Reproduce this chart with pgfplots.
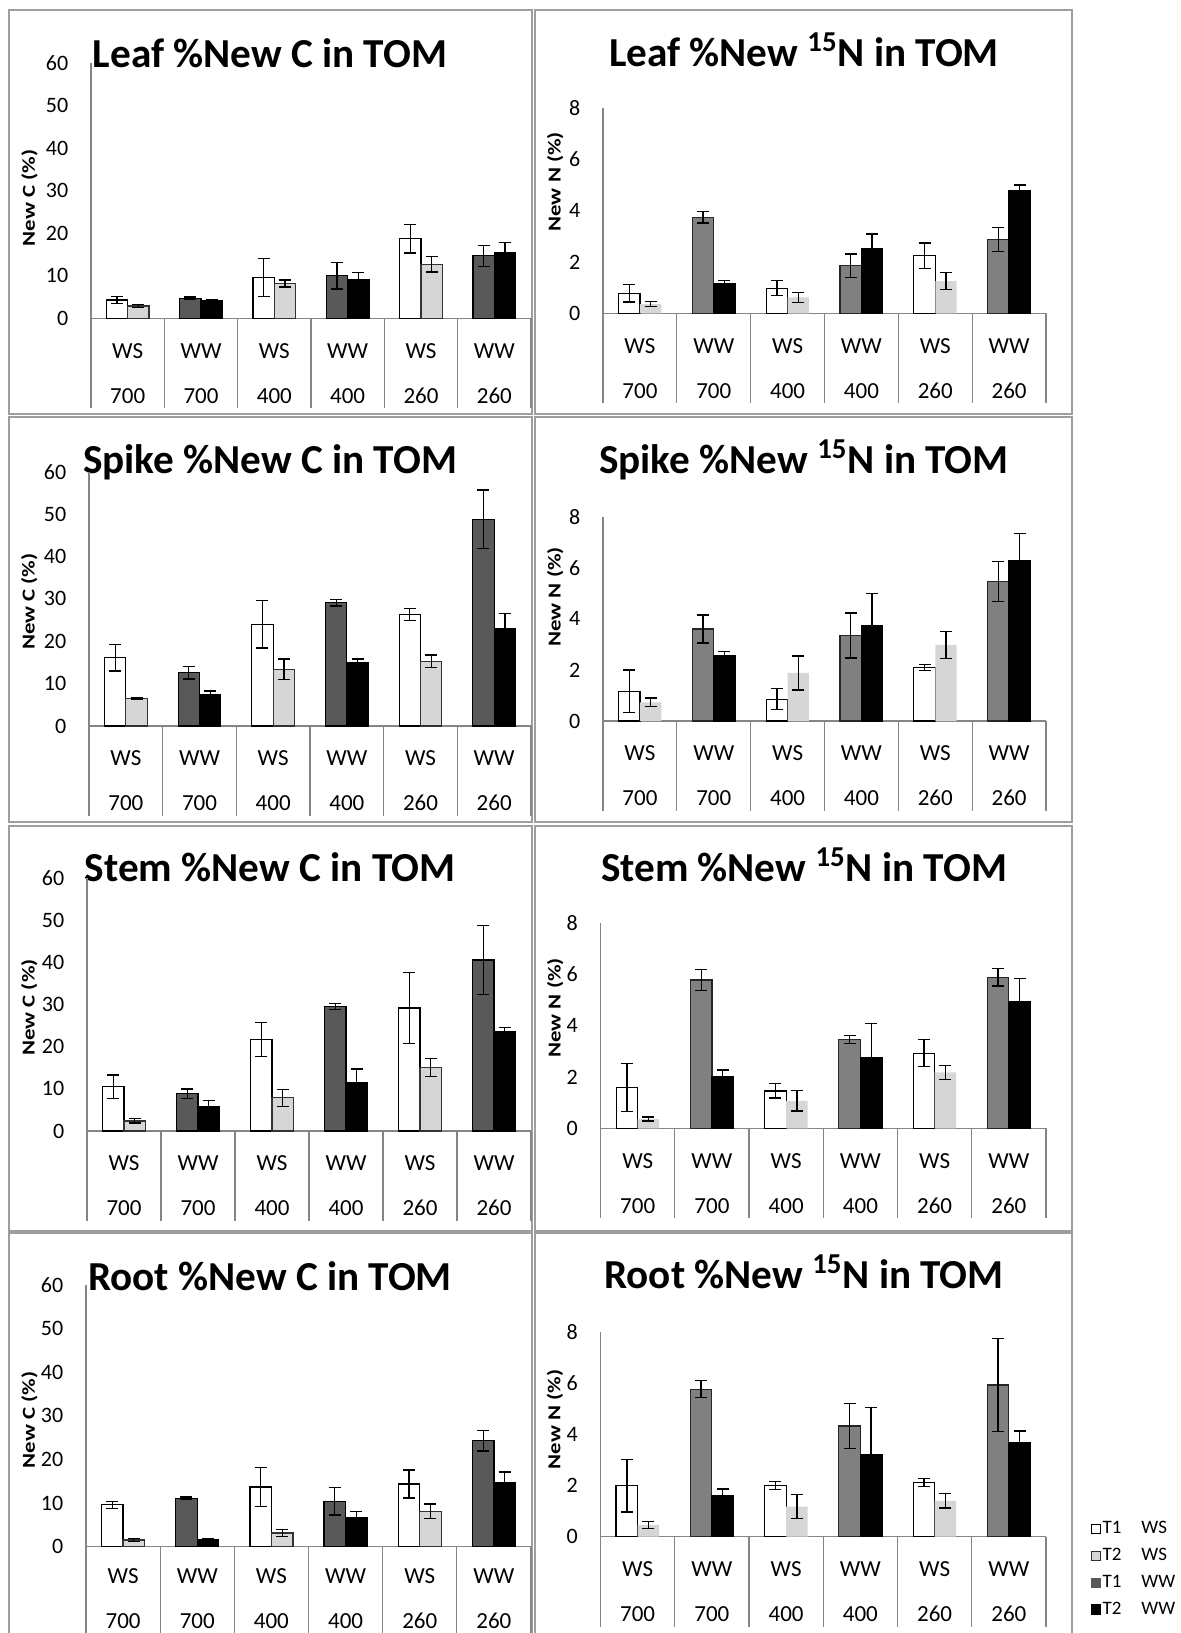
\documentclass[border=0pt]{standalone}
\usepackage{fontspec}
\setmainfont{Carlito}
\usepackage{graphicx}
\usepackage{pgfplots}
\pgfplotsset{compat=1.18}

\pgfplotsset{
  panel/.style={
    scale only axis, clip=false, enlargelimits=false,
    ybar, bar width=0.29, bar shift=0pt,
    xmin=-0.5, xmax=5.5, ymin=0,
    axis x line*=bottom, axis y line*=left,
    axis line style={draw=black!48, line width=0.6pt},
    tick style={draw=none},
    xtick={0,...,5},
    xticklabels={{WS\\700},{WW\\700},{WS\\400},{WW\\400},{WS\\260},{WW\\260}},
    xticklabel style={align=center, anchor=center, inner sep=0pt, yshift=-23.2pt,
      font=\fontsize{11.5}{22.5}\selectfont},
    yticklabel style={anchor=east, inner sep=0pt, xshift=-11.2pt,
      font=\fontsize{11}{13}\selectfont},
    /pgf/number format/assume math mode=true,
    ylabel style={anchor=center, inner sep=0pt, font=\bfseries\fontsize{11.4}{13}\selectfont},
  },
  Cpanel/.style={panel, ymax=60, ytick={0,10,...,60},
    ylabel={\scalebox{1}[0.8]{New C (\%)}}},
  Npanel/.style={panel, ymax=8, ytick={0,2,...,8},
    ylabel={\scalebox{1}[0.8]{New N (\%)}}},
  c1ws/.style={fill=white, draw=black, line width=0.6pt},
  c2ws/.style={fill=black!16, draw=black!80, line width=0.6pt},
  c1ww/.style={fill=black!65, draw=black, line width=0.6pt},
  c2ww/.style={fill=black, draw=black, line width=0.6pt},
  n2ws/.style={fill=black!16, draw=none},
  n1ww/.style={fill=black!50, draw=black!85, line width=0.6pt},
  eb/.style={error bars/.cd, y dir=both, y explicit,
    error bar style={black, line width=0.65pt},
    error mark options={black, rotate=90, mark size=3pt, line width=0.65pt}},
}
\newcommand{\seps}[1]{%
  \pgfplotsinvokeforeach{-0.5,0.5,1.5,2.5,3.5,4.5,5.5}{%
    \draw[black!48, line width=0.6pt] (axis cs:##1,0) -- ++(0pt,-#1);}}

\begin{document}
\begin{tikzpicture}
\useasboundingbox (0pt,0pt) rectangle (590pt,-816.5pt);

% chart frames
\draw[black!38, line width=0.9pt] (4.5pt,-5pt) rectangle (266pt,-207pt);
\draw[black!38, line width=0.9pt] (4.5pt,-208.5pt) rectangle (266pt,-411pt);
\draw[black!38, line width=0.9pt] (4.5pt,-413pt) rectangle (266pt,-615.5pt);
\draw[black!38, line width=0.9pt] (4.5pt,-820pt) -- (4.5pt,-616.5pt) -- (266pt,-616.5pt) -- (266pt,-820pt);
\draw[black!38, line width=0.9pt] (267.5pt,-5pt) rectangle (536pt,-207pt);
\draw[black!38, line width=0.9pt] (267.5pt,-208.5pt) rectangle (536pt,-411pt);
\draw[black!38, line width=0.9pt] (267.5pt,-413pt) rectangle (536pt,-615.5pt);
\draw[black!38, line width=0.9pt] (267.5pt,-820pt) -- (267.5pt,-616.5pt) -- (536pt,-616.5pt) -- (536pt,-820pt);

% titles
\begin{scope}[every node/.style={anchor=base, font=\bfseries\fontsize{20.6}{24}\selectfont}]
\node at (135pt,-33.5pt) {Leaf \%New C in TOM};
\node at (135pt,-236.65pt) {Spike \%New C in TOM};
\node at (135pt,-440.85pt) {Stem \%New C in TOM};
\node at (135pt,-645pt) {Root \%New C in TOM};
\node at (402pt,-33.35pt) {Leaf \%New \textsuperscript{15}N in TOM};
\node at (402pt,-236.65pt) {Spike \%New \textsuperscript{15}N in TOM};
\node at (402pt,-440.85pt) {Stem \%New \textsuperscript{15}N in TOM};
\node at (402pt,-644.15pt) {Root \%New \textsuperscript{15}N in TOM};
\end{scope}

% ---- Leaf C
\begin{axis}[Cpanel, at={(45.5pt,-159.15pt)}, anchor=south west,
  width=220pt, height=127.5pt,
  ylabel style={at={(axis description cs:-0.140,0.472)}}]
\addplot[c1ws, eb] coordinates {(-0.145,4.3) +- (0,0.8) (1.855,9.6) +- (0,4.5) (3.855,18.7) +- (0,3.3)};
\addplot[c2ws, eb] coordinates {(0.145,2.9) +- (0,0.3) (2.145,8.2) +- (0,0.8) (4.145,12.7) +- (0,1.8)};
\addplot[c1ww, eb] coordinates {(0.855,4.7) +- (0,0.3) (2.855,10.0) +- (0,3.1) (4.855,14.7) +- (0,2.5)};
\addplot[c2ww, eb] coordinates {(1.145,4.1) +- (0,0.2) (3.145,9.2) +- (0,1.6) (5.145,15.5) +- (0,2.3)};
\seps{45pt}
\end{axis}

% ---- Leaf N
\begin{axis}[Npanel, at={(301.5pt,-156.65pt)}, anchor=south west,
  width=221.5pt, height=102.5pt,
  ylabel style={at={(axis description cs:-0.108,0.642)}}]
\addplot[c1ws, eb] coordinates {(-0.145,0.78) +- (0,0.34) (1.855,0.98) +- (0,0.29) (3.855,2.25) +- (0,0.49)};
\addplot[n2ws, eb] coordinates {(0.145,0.36) +- (0,0.09) (2.145,0.62) +- (0,0.2) (4.145,1.26) +- (0,0.33)};
\addplot[n1ww, eb] coordinates {(0.855,3.75) +- (0,0.22) (2.855,1.86) +- (0,0.45) (4.855,2.89) +- (0,0.47)};
\addplot[c2ww, eb] coordinates {(1.145,1.17) +- (0,0.12) (3.145,2.54) +- (0,0.55) (5.145,4.79) +- (0,0.22)};
\seps{45pt}
\end{axis}

% ---- Spike C
\begin{axis}[Cpanel, at={(44.5pt,-363pt)}, anchor=south west,
  width=221pt, height=127.15pt,
  ylabel style={at={(axis description cs:-0.135,0.489)}}]
\addplot[c1ws, eb] coordinates {(-0.145,16.1) +- (0,3.1) (1.855,24.0) +- (0,5.6) (3.855,26.3) +- (0,1.45)};
\addplot[c2ws, eb] coordinates {(0.145,6.4) +- (0,0.2) (2.145,13.4) +- (0,2.4) (4.145,15.3) +- (0,1.45)};
\addplot[c1ww, eb] coordinates {(0.855,12.6) +- (0,1.5) (2.855,29.1) +- (0,0.8) (4.855,48.8) +- (0,6.9)};
\addplot[c2ww, eb] coordinates {(1.145,7.5) +- (0,0.75) (3.145,15.0) +- (0,0.8) (5.145,23.0) +- (0,3.5)};
\seps{45pt}
\end{axis}

% ---- Spike N
\begin{axis}[Npanel, at={(301.5pt,-360.5pt)}, anchor=south west,
  width=221.5pt, height=102.15pt,
  ylabel style={at={(axis description cs:-0.108,0.608)}}]
\addplot[c1ws, eb] coordinates {(-0.145,1.17) +- (0,0.83) (1.855,0.85) +- (0,0.41) (3.855,2.09) +- (0,0.12)};
\addplot[n2ws, eb] coordinates {(0.145,0.73) +- (0,0.17) (2.145,1.88) +- (0,0.67) (4.145,2.98) +- (0,0.52)};
\addplot[n1ww, eb] coordinates {(0.855,3.6) +- (0,0.55) (2.855,3.35) +- (0,0.88) (4.855,5.46) +- (0,0.78)};
\addplot[c2ww, eb] coordinates {(1.145,2.58) +- (0,0.13) (3.145,3.75) +- (0,1.25) (5.145,6.27) +- (0,1.06)};
\seps{45pt}
\end{axis}

% ---- Stem C
\begin{axis}[Cpanel, at={(43.5pt,-565.5pt)}, anchor=south west,
  width=222pt, height=126.35pt,
  ylabel style={at={(axis description cs:-0.130,0.489)}}]
\addplot[c1ws, eb] coordinates {(-0.145,10.5) +- (0,2.8) (1.855,21.7) +- (0,4.0) (3.855,29.2) +- (0,8.4)};
\addplot[c2ws, eb] coordinates {(0.145,2.4) +- (0,0.5) (2.145,7.9) +- (0,2.0) (4.145,15.1) +- (0,2.2)};
\addplot[c1ww, eb] coordinates {(0.855,8.9) +- (0,1.1) (2.855,29.6) +- (0,0.7) (4.855,40.6) +- (0,8.2)};
\addplot[c2ww, eb] coordinates {(1.145,5.9) +- (0,1.3) (3.145,11.5) +- (0,3.2) (5.145,23.5) +- (0,1.0)};
\seps{45pt}
\end{axis}

% ---- Stem N
\begin{axis}[Npanel, at={(300.3pt,-564.15pt)}, anchor=south west,
  width=222.7pt, height=102.5pt,
  ylabel style={at={(axis description cs:-0.102,0.588)}}]
\addplot[c1ws, eb] coordinates {(-0.145,1.6) +- (0,0.94) (1.855,1.46) +- (0,0.28) (3.855,2.93) +- (0,0.53)};
\addplot[n2ws, eb] coordinates {(0.145,0.36) +- (0,0.08) (2.145,1.07) +- (0,0.4) (4.145,2.18) +- (0,0.27)};
\addplot[n1ww, eb] coordinates {(0.855,5.79) +- (0,0.42) (2.855,3.46) +- (0,0.16) (4.855,5.9) +- (0,0.34)};
\addplot[c2ww, eb] coordinates {(1.145,2.02) +- (0,0.26) (3.145,2.77) +- (0,1.33) (5.145,4.94) +- (0,0.92)};
\seps{45pt}
\end{axis}

% ---- Root C
\begin{axis}[Cpanel, at={(43pt,-773.35pt)}, anchor=south west,
  width=222.5pt, height=130.85pt,
  xticklabel style={yshift=1.6pt},
  ylabel style={at={(axis description cs:-0.127,0.484)}}]
\addplot[c1ws, eb] coordinates {(-0.145,9.6) +- (0,0.77) (1.855,13.7) +- (0,4.5) (3.855,14.4) +- (0,3.2)};
\addplot[c2ws, eb] coordinates {(0.145,1.54) +- (0,0.3) (2.145,3.15) +- (0,0.8) (4.145,8.1) +- (0,1.7)};
\addplot[c1ww, eb] coordinates {(0.855,11.1) +- (0,0.3) (2.855,10.4) +- (0,3.1) (4.855,24.3) +- (0,2.35)};
\addplot[c2ww, eb] coordinates {(1.145,1.6) +- (0,0.2) (3.145,6.6) +- (0,1.55) (5.145,14.8) +- (0,2.3)};
\seps{45pt}
\end{axis}

% ---- Root N (carries the legend)
\begin{axis}[Npanel, at={(300.25pt,-768.35pt)}, anchor=south west,
  width=222.75pt, height=102.5pt,
  ylabel style={at={(axis description cs:-0.102,0.573)}},
  legend image code/.code={\draw[#1, line width=0.4pt] (0pt,-2.3pt) rectangle (4.4pt,2.3pt);},
  legend style={at={(axis description cs:1.101,0.078)}, anchor=north west,
    draw=none, fill=none, inner sep=0pt, row sep=5.8pt,
    font=\fontsize{9.5}{11}\selectfont,
    nodes={inner xsep=0.8pt, inner ysep=0pt}},
  legend cell align=left]
\addlegendimage{fill=white, draw=black}
\addlegendentry{T1\hspace{10pt}WS}
\addlegendimage{fill=black!16, draw=black!80}
\addlegendentry{T2\hspace{10pt}WS}
\addlegendimage{fill=black!65, draw=black!65}
\addlegendentry{T1\hspace{10pt}WW}
\addlegendimage{fill=black, draw=black}
\addlegendentry{T2\hspace{10pt}WW}
\addplot[c1ws, eb] coordinates {(-0.145,1.99) +- (0,1.03) (1.855,1.99) +- (0,0.16) (3.855,2.11) +- (0,0.15)};
\addplot[n2ws, eb] coordinates {(0.145,0.46) +- (0,0.13) (2.145,1.17) +- (0,0.47) (4.145,1.4) +- (0,0.28)};
\addplot[n1ww, eb] coordinates {(0.855,5.76) +- (0,0.33) (2.855,4.32) +- (0,0.88) (4.855,5.92) +- (0,1.82)};
\addplot[c2ww, eb] coordinates {(1.145,1.6) +- (0,0.26) (3.145,3.19) +- (0,1.86) (5.145,3.67) +- (0,0.46)};
\seps{45pt}
\end{axis}
\end{tikzpicture}
\end{document}
